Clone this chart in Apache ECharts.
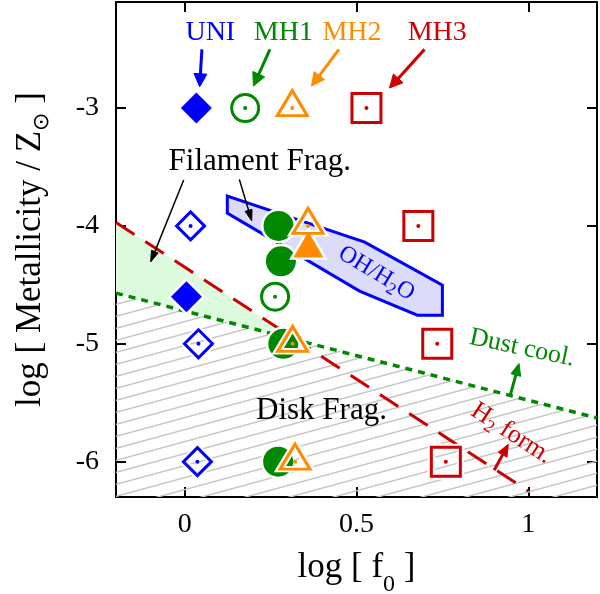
<!DOCTYPE html>
<html><head><meta charset="utf-8">
<script src="https://cdn.jsdelivr.net/npm/echarts@6/dist/echarts.min.js"></script>
<style>html,body{margin:0;padding:0;background:#fff}#c{width:600px;height:594px}</style>
</head><body><div id="c"></div>
<script>
// ---------------- data ----------------
const xTicks = [0, 0.5, 1];
const xTickLabels = ['0', '0.5', '1'];
const yTicks = [-6, -5, -4, -3];
const yTickLabels = ['-6', '-5', '-4', '-3'];

const uniFilledX = [0.034, 0.005];
const uniFilledY = [-3.0, -4.6];
const uniOpenX = [0.017, 0.04, 0.037];
const uniOpenY = [-4.0, -5.0, -6.0];

const mh1FilledX = [0.273, 0.28, 0.287, 0.272];
const mh1FilledY = [-4.0, -4.3, -5.0, -6.0];
const mh1OpenX = [0.176, 0.263];
const mh1OpenY = [-3.0, -4.6];

const mh2FilledX = [0.36];
const mh2FilledY = [-4.2];
const mh2OpenX = [0.313, 0.359, 0.314, 0.321];
const mh2OpenY = [-3.0, -4.0, -5.0, -6.0];

const mh3OpenX = [0.529, 0.68, 0.735, 0.76];
const mh3OpenY = [-3.0, -4.0, -5.0, -6.0];

// boundary lines
const h2LineX = [-0.2, 1.0];
const h2LineY = [-3.97, -6.25];
const dustLineX = [-0.2, 1.2];
const dustLineY = [-4.57, -5.63];

// OH/H2O region
const ohPolyX = [0.124, 0.124, 0.509, 0.677, 0.750, 0.750, 0.524];
const ohPolyY = [-3.747, -3.891, -4.553, -4.757, -4.757, -4.503, -4.138];

// annotations
const annText = ['UNI', 'MH1', 'MH2', 'MH3', 'Filament Frag.', 'Disk Frag.',
  'Dust cool.', '{a|H}{s|2}{a| form.}', '{a|OH/H}{s|2}{a|O}'];
const annX = [0.0745, 0.287, 0.487, 0.735, -0.047, 0.398, 0.982, 0.951, 0.558];
const annY = [-2.361, -2.361, -2.361, -2.361, -3.456, -5.570, -5.037, -5.761, -4.403];
const annRot = [0, 0, 0, 0, 0, 0, -12, -33, -31];

// arrows
const arrX0 = [0.050, 0.248, 0.449, 0.698, -0.003, 0.159, 0.947, 0.9006];
const arrY0 = [-2.502, -2.502, -2.502, -2.502, -3.611, -3.605, -5.442, -6.073];
const arrX1 = [0.0435, 0.200, 0.369, 0.596, -0.099, 0.195, 0.973, 0.942];
const arrY1 = [-2.819, -2.813, -2.813, -2.83, -4.305, -3.957, -5.167, -5.852];

// ---------------- styles ----------------
const BLUE = '#0000ff', GREEN = '#008800', ORANGE = '#ff8c00', RED = '#cc0000';
const SERIF = 'Liberation Serif';
const annColor = [BLUE, GREEN, ORANGE, RED, '#000', '#000', GREEN, RED, BLUE];
const annSize = [28, 28, 28, 28, 31, 31, 26, 26, 24];
const annAlign = ['center', 'center', 'center', 'center', 'left', 'center', 'center', 'center', 'center'];
const arrColor = [BLUE, GREEN, ORANGE, RED, '#000', '#000', GREEN, RED];
const arrWidth = [3, 3, 3, 3, 1.5, 1.5, 3, 3];
const arrHeadL = [13, 13, 13, 13, 11, 11, 12, 12];
const arrHeadW = [6.5, 6.5, 6.5, 6.5, 3.6, 3.6, 5, 5];

const zip = (xs, ys) => xs.map((x, i) => [x, ys[i]]);

function makeHatch() {
  const c = document.createElement('canvas');
  const w = 44, h = 12;
  c.width = w; c.height = h;
  const ctx = c.getContext('2d');
  ctx.strokeStyle = '#c4c4c4'; ctx.lineWidth = 1.4;
  for (let k = -1; k <= 1; k++) {
    ctx.beginPath(); ctx.moveTo(-1, h + k * h + h / w); ctx.lineTo(w + 1, k * h - h / w); ctx.stroke();
  }
  return c;
}

function lineAt(xs, ys, x) { return ys[0] + (ys[1] - ys[0]) * (x - xs[0]) / (xs[1] - xs[0]); }
// intersection of H2 line and dust line
const sH = (h2LineY[1] - h2LineY[0]) / (h2LineX[1] - h2LineX[0]);
const sD = (dustLineY[1] - dustLineY[0]) / (dustLineX[1] - dustLineX[0]);
const bH = h2LineY[0] - sH * h2LineX[0];
const bD = dustLineY[0] - sD * dustLineX[0];
const xInt = (bD - bH) / (sH - sD);
const shadeX = [-0.2, xInt, -0.2];
const shadeY = [lineAt(h2LineX, h2LineY, -0.2), bH + sH * xInt, lineAt(dustLineX, dustLineY, -0.2)];

function markerSeries(xs, ys, symbol, size, color, filled, z, offset) {
  const data = zip(xs, ys);
  const off = offset || [0, 0];
  const out = [];
  out.push({
    type: 'scatter', data, symbol, symbolSize: size, symbolOffset: off, z, silent: true,
    itemStyle: filled ? { color: '#fff', borderColor: '#fff', borderWidth: 5, opacity: 1 }
                      : { color: 'rgba(0,0,0,0)', borderColor: '#fff', borderWidth: 7, opacity: 1 }
  });
  out.push({
    type: 'scatter', data, symbol, symbolSize: size, symbolOffset: off, z: z + 1, silent: true,
    itemStyle: filled ? { color, borderWidth: 0, opacity: 1 }
                      : { color: 'rgba(0,0,0,0)', borderColor: color, borderWidth: 3, opacity: 1 }
  });
  if (!filled) {
    out.push({ type: 'scatter', data, symbol: 'circle', symbolSize: 4, z: z + 2, silent: true,
      itemStyle: { color, opacity: 1 } });
  }
  return out;
}

const chart = echarts.init(document.getElementById('c'), null, { renderer: 'canvas' });

const axisCommonX = {
  type: 'value', min: -0.2, max: 1.2,
  axisLine: { show: true, onZero: false, lineStyle: { color: '#000', width: 2 } },
  axisTick: { show: true, inside: true, length: 10, customValues: xTicks, lineStyle: { color: '#000', width: 2 } },
  splitLine: { show: false }
};
const axisCommonY = {
  type: 'value', min: -6.3, max: -2.1,
  axisLine: { show: true, onZero: false, lineStyle: { color: '#000', width: 2 } },
  axisTick: { show: true, inside: true, length: 10, customValues: yTicks, lineStyle: { color: '#000', width: 2 } },
  splitLine: { show: false }
};

const series = [];
// hatched region below dust-cooling line
series.push({
  type: 'line', data: zip(dustLineX, dustLineY), symbol: 'none', z: 1, silent: true,
  lineStyle: { width: 0, opacity: 0 },
  areaStyle: { color: { image: makeHatch(), repeat: 'repeat' }, opacity: 1, origin: 'start' }
});
// light green region between the lines
series.push({
  type: 'custom', coordinateSystem: 'cartesian2d', z: 2, silent: true,
  data: [[shadeX[0], shadeY[0]]],
  renderItem: (params, api) => ({
    type: 'polygon',
    shape: { points: shadeX.map((x, i) => api.coord([x, shadeY[i]])) },
    style: { fill: '#dcfadc', stroke: null }
  })
});
// H2 formation line
series.push({
  type: 'line', data: zip(h2LineX, h2LineY), symbol: 'none', z: 3, silent: true,
  lineStyle: { color: RED, width: 3, type: [22, 13] }
});
// dust cooling line
series.push({
  type: 'line', data: zip(dustLineX, dustLineY), symbol: 'none', z: 3, silent: true,
  lineStyle: { color: GREEN, width: 3.5, type: [7, 6] }
});
// OH/H2O polygon
series.push({
  type: 'custom', coordinateSystem: 'cartesian2d', z: 4, silent: true,
  data: [[ohPolyX[0], ohPolyY[0]]],
  renderItem: (params, api) => ({
    type: 'polygon',
    shape: { points: ohPolyX.map((x, i) => api.coord([x, ohPolyY[i]])) },
    style: { fill: '#dcdcfa', stroke: BLUE, lineWidth: 3, lineJoin: 'miter' }
  })
});
// markers
series.push(...markerSeries(uniFilledX, uniFilledY, 'diamond', 31, BLUE, true, 10));
series.push(...markerSeries(uniOpenX, uniOpenY, 'diamond', 28, BLUE, false, 10));
series.push(...markerSeries(mh1FilledX, mh1FilledY, 'circle', 30, GREEN, true, 14));
series.push(...markerSeries(mh1OpenX, mh1OpenY, 'circle', 27, GREEN, false, 14));
series.push(...markerSeries(mh2FilledX, mh2FilledY, 'triangle', [30, 26], ORANGE, true, 18, [0, -5]));
series.push(...markerSeries(mh2OpenX, mh2OpenY, 'triangle', [30, 25], ORANGE, false, 18, [0, -5]));
series.push(...markerSeries(mh3OpenX, mh3OpenY, 'rect', 29, RED, false, 22));

// arrows
series.push({
  type: 'custom', coordinateSystem: 'cartesian2d', z: 30, silent: true,
  data: arrX0.map((x, i) => [x, arrY0[i], i]),
  renderItem: (params, api) => {
    const i = api.value(2);
    const p0 = api.coord([arrX0[i], arrY0[i]]);
    const p1 = api.coord([arrX1[i], arrY1[i]]);
    const dx = p1[0] - p0[0], dy = p1[1] - p0[1];
    const len = Math.sqrt(dx * dx + dy * dy);
    const ux = dx / len, uy = dy / len, nx = -uy, ny = ux;
    const L = arrHeadL[i], W = arrHeadW[i];
    const bx = p1[0] - ux * L, by = p1[1] - uy * L;
    return {
      type: 'group',
      children: [
        { type: 'line', shape: { x1: p0[0], y1: p0[1], x2: bx + ux * 1, y2: by + uy * 1 },
          style: { stroke: arrColor[i], lineWidth: arrWidth[i] } },
        { type: 'polygon', shape: { points: [[p1[0], p1[1]], [bx + nx * W, by + ny * W], [bx - nx * W, by - ny * W]] },
          style: { fill: arrColor[i], stroke: arrColor[i], lineWidth: 1 } }
      ]
    };
  }
});

// annotation texts
series.push({
  type: 'custom', coordinateSystem: 'cartesian2d', z: 31, silent: true,
  data: annX.map((x, i) => [x, annY[i], i]),
  renderItem: (params, api) => {
    const i = api.value(2);
    const p = api.coord([annX[i], annY[i]]);
    const fs = annSize[i];
    const subFs = Math.round(fs * 0.7);
    const L = 2 * (subFs / 2 + fs * 0.27);
    return {
      type: 'text', x: p[0], y: p[1], rotation: annRot[i] * Math.PI / 180,
      style: {
        text: annText[i], fill: annColor[i], fontFamily: SERIF, fontSize: fs,
        align: annAlign[i], verticalAlign: 'middle',
        rich: {
          a: { fontFamily: SERIF, fontSize: fs, fill: annColor[i], color: annColor[i], lineHeight: L },
          s: { fontFamily: SERIF, fontSize: subFs, fill: annColor[i], color: annColor[i], lineHeight: L, verticalAlign: 'bottom' }
        }
      }
    };
  }
});

const option = {
  animation: false,
  backgroundColor: '#fff',
  grid: { left: 116, right: 3, top: 2, bottom: 97, containLabel: false, outerBoundsMode: 'none' },
  xAxis: [
    Object.assign({}, axisCommonX, {
      position: 'bottom',
      axisLabel: { show: true, customValues: xTicks, margin: 14,
        formatter: v => xTickLabels[xTicks.indexOf(v)] ?? '',
        fontFamily: SERIF, fontSize: 28, color: '#000' },
      name: '{a|log [ f}{s|0}{a| ]}', nameLocation: 'middle', nameGap: 42,
      nameTextStyle: { rich: {
        a: { fontFamily: SERIF, fontSize: 35, color: '#000', lineHeight: 58 },
        s: { fontFamily: SERIF, fontSize: 24, color: '#000', lineHeight: 58, verticalAlign: 'bottom' }
      } }
    }),
    Object.assign({}, axisCommonX, { position: 'top', axisLabel: { show: false } })
  ],
  yAxis: [
    Object.assign({}, axisCommonY, {
      position: 'left',
      axisLabel: { show: true, customValues: yTicks, margin: 17,
        formatter: v => yTickLabels[yTicks.indexOf(v)] ?? '',
        fontFamily: SERIF, fontSize: 28, color: '#000' },
      name: '{a|log [ Metallicity / Z}{s|⊙}{a| ]}', nameLocation: 'middle', nameGap: 63,
      nameTextStyle: { rich: {
        a: { fontFamily: SERIF, fontSize: 35, color: '#000', lineHeight: 45 },
        s: { fontFamily: 'DejaVu Sans', fontSize: 22, color: '#000', lineHeight: 45, verticalAlign: 'bottom' }
      } }
    }),
    Object.assign({}, axisCommonY, { position: 'right', axisLabel: { show: false } })
  ],
  series
};
chart.setOption(option);
</script>
</body></html>
